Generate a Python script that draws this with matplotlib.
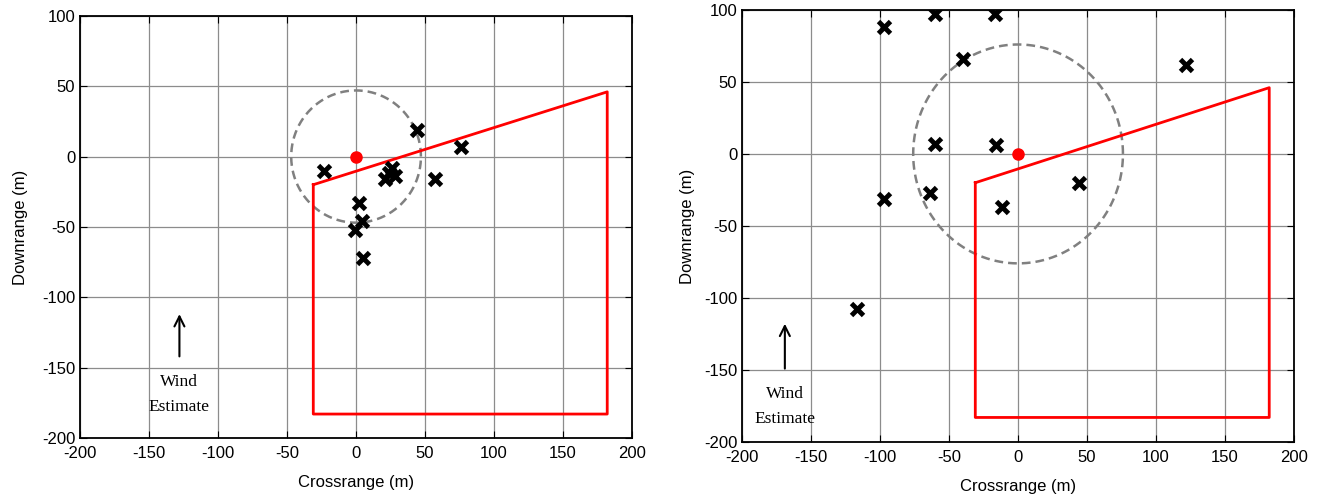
import numpy as np
import matplotlib
matplotlib.use('Agg')
import matplotlib.pyplot as plt

plt.rcParams['font.family'] = ['Liberation Sans', 'DejaVu Sans']
plt.rcParams['axes.unicode_minus'] = False

# left panel
left_x = [44, 76, -23, 26, 21, 28, 24, 57, 2, 4, -1, 5]
left_y = [19, 7, -10, -8, -16, -14, -12, -16, -33, -46, -52, -72]
left_radius = 47

# right panel
right_x = [-97, -60, -17, -40, 122, -60, -16, 44, -97, -64, -12, -117]
right_y = [88, 97, 97, 66, 62, 7, 6, -20, -31, -27, -37, -108]
right_radius = 76

# target zone outline
zone_x = [-31, 182, 182, -31, -31]
zone_y = [-20, 46, -183, -183, -20]

ticks_x = [-200, -150, -100, -50, 0, 50, 100, 150, 200]
ticks_y = [-200, -150, -100, -50, 0, 50, 100]

fig = plt.figure(figsize=(13.19, 4.96), dpi=100)
ax1 = fig.add_axes([0.0607, 0.117, 0.4185, 0.851])
ax2 = fig.add_axes([0.5626, 0.109, 0.4185, 0.871])

panels = [
    (ax1, left_x, left_y, left_radius, (-128, -144, -110), (-128, -160, -178), 10),
    (ax2, right_x, right_y, right_radius, (-169, -151, -116), (-169, -167, -184), 6),
]

t = np.linspace(0, 2 * np.pi, 300)
for ax, px, py, r, arrow, txt, ypad in panels:
    ax.plot(r * np.cos(t), r * np.sin(t), '--', color='#808080', lw=1.8, dashes=(3.5, 2))
    ax.plot(zone_x, zone_y, color='red', lw=2)
    ax.plot(px, py, 'x', color='black', markersize=9, mew=3.5, linestyle='none')
    ax.plot(0, 0, 'o', color='red', markersize=8)
    ax.annotate('', xy=(arrow[0], arrow[2]), xytext=(arrow[0], arrow[1]),
                arrowprops=dict(arrowstyle='->', color='black', lw=1.5,
                                mutation_scale=18))
    ax.text(txt[0], txt[1], 'Wind', ha='center', va='center',
            family='Liberation Serif', fontsize=12.5)
    ax.text(txt[0], txt[2], 'Estimate', ha='center', va='center',
            family='Liberation Serif', fontsize=12.5)
    ax.set_xlim(-200, 200)
    ax.set_ylim(-200, 100)
    ax.set_xticks(ticks_x)
    ax.set_yticks(ticks_y)
    ax.grid(True, color='#8c8c8c', lw=0.9)
    ax.set_axisbelow(True)
    ax.tick_params(direction='in', labelsize=12, length=5, top=True, right=True)
    ax.tick_params(axis='x', pad=6)
    for s in ax.spines.values():
        s.set_linewidth(1.3)
    ax.set_xlabel('Crossrange (m)', fontsize=12, labelpad=10)
    ax.set_ylabel('Downrange (m)', fontsize=12, labelpad=ypad)

fig.savefig('out.png', dpi=100)
